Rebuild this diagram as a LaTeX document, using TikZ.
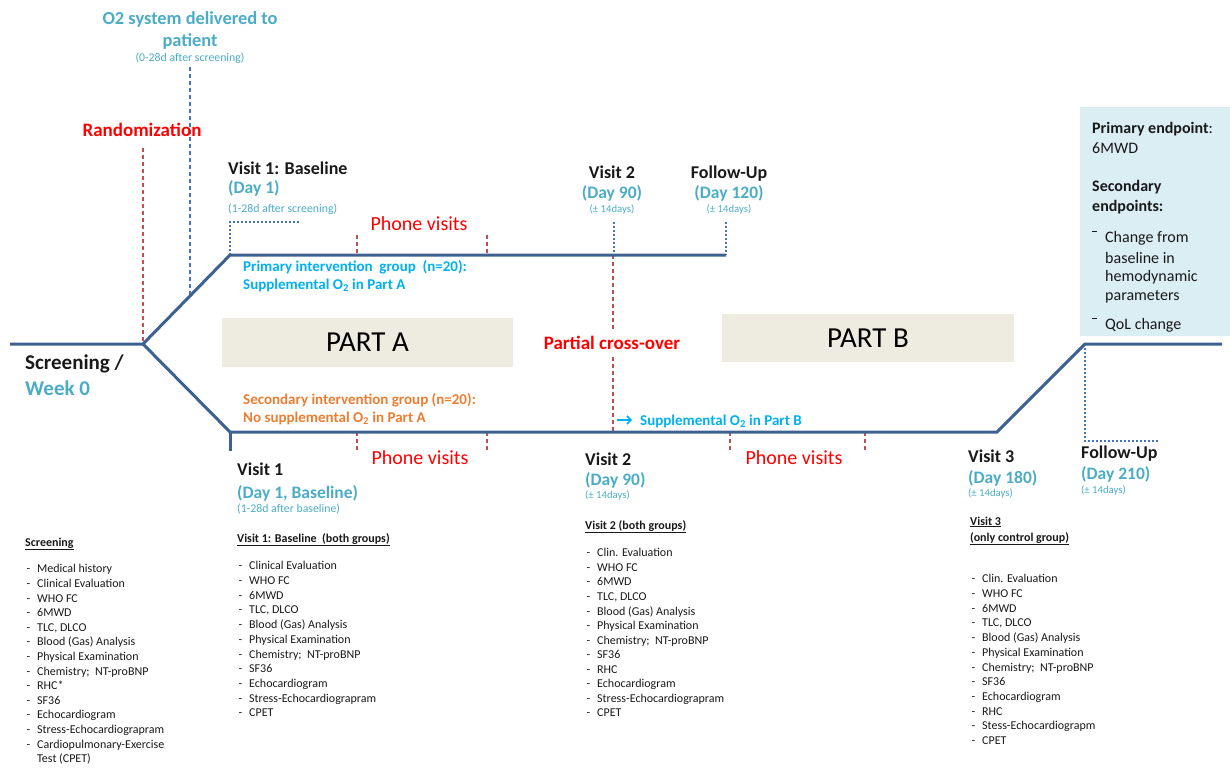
\documentclass[tikz,border=0pt]{standalone}
\usepackage{fontspec}
\setmainfont{Carlito}
\usetikzlibrary{arrows.meta}
\definecolor{tline}{RGB}{61,97,145}
\definecolor{daybl}{RGB}{75,172,198}
\definecolor{cyanbl}{RGB}{0,176,240}
\definecolor{orng}{RGB}{237,125,49}
\definecolor{dkred}{RGB}{192,80,77}
\definecolor{dotbl}{RGB}{68,114,196}
\definecolor{partfill}{RGB}{238,236,225}
\definecolor{epfill}{RGB}{219,238,244}
\definecolor{txt}{RGB}{25,25,25}
\newcommand\fsz[1]{\fontsize{#1}{#1}\selectfont}
\newcommand\dsh{\makebox[12pt][l]{\hspace{1.5pt}-}}
\newcommand\ovb{\makebox[13pt][l]{\raisebox{0.62em}{\rule{5pt}{0.8pt}}}}
\tikzset{
  every node/.style={inner sep=0pt},
  tl/.style={tline, line width=3pt},
  reddash/.style={dkred, line width=2.2pt, dash pattern=on 4pt off 3pt},
  bluedash/.style={dotbl, line width=1.6pt, dash pattern=on 4pt off 3pt},
  bluedot/.style={dotbl, line width=2pt, dash pattern=on 2pt off 2pt},
  hd/.style={font=\fsz{18}\bfseries, text=txt},
  day/.style={font=\fsz{17.5}\bfseries, text=daybl},
  sml/.style={font=\fsz{11.8}, text=daybl},
  pm/.style={font=\fsz{10.7}, text=daybl},
  redb/.style={font=\fsz{19}\bfseries, text=red},
  phone/.style={font=\fsz{20}, text=red},
  grp/.style={font=\fsz{15}\bfseries},
  partbox/.style={fill=partfill, font=\fsz{29}, text=black},
  ep/.style={font=\fsz{16}, text=txt},
  lhd/.style={font=\fsz{12}\bfseries, text=txt},
  li/.style={font=\fsz{12}, text=txt, anchor=base west},
}
\begin{document}
\begin{tikzpicture}[x=1pt,y=-1pt]
\useasboundingbox (0,0) rectangle (1230,769);
% endpoint box
\node[fill=epfill, minimum width=150pt, minimum height=229pt] (epbox) at (1155,221.5) {};
% part boxes
\node[partbox, minimum width=291pt, minimum height=49pt] (pa) at (367.5,342.5) {PART A};
\node[partbox, minimum width=292pt, minimum height=48pt] (pb) at (868,338) {PART B};
% coordinates of the timeline
\coordinate (scr) at (10,344);
\coordinate (br) at (143,344);
\coordinate (ua) at (230,255);
\coordinate (ue) at (726,255);
\coordinate (la) at (230,432);
\coordinate (lt) at (230,451);
\coordinate (le) at (997,432);
\coordinate (ra) at (1085,344);
\coordinate (re) at (1222,344);
% markers
\coordinate (rnd1) at (143,148);
\coordinate (o2a) at (190,67);
\coordinate (o2b) at (190,296);
\coordinate (v1a) at (230,222);
\coordinate (v1b) at (300,222);
\coordinate (v2a) at (614,222);
\coordinate (v2b) at (614,255);
\coordinate (fua) at (726,222);
\coordinate (fub) at (1085,441);
\coordinate (fuc) at (1158,441);
\coordinate (cx1) at (613,255);
\coordinate (cx2) at (613,331);
\coordinate (cx3) at (613,357);
\coordinate (cx4) at (613,432);
\foreach \n/\x/\ya/\yb in {p1/357/235/255, p2/487/235/255, p3/357/432/452, p4/487/432/452, p5/730/432/452, p6/865/432/452}{
  \coordinate (\n a) at (\x,\ya);
  \coordinate (\n b) at (\x,\yb);
}
\coordinate (arS) at (617,420);
\coordinate (arE) at (632,420);

% dashed / dotted markers
\draw[reddash] (rnd1) -- (br);
\draw[bluedash] (o2a) -- (o2b);
\draw[bluedot] (ua) -- (v1a) -- (v1b);
\draw[bluedot] (v2a) -- (v2b);
\draw[bluedot] (fua) -- (ue);
\draw[bluedot] (ra) -- (fub) -- (fuc);
\foreach \n in {p1,p2,p3,p4,p5,p6}{ \draw[reddash] (\n a) -- (\n b); }
\draw[reddash] (cx1) -- (cx2);
\draw[reddash] (cx3) -- (cx4);
% timeline
\draw[tl, line join=miter] (scr) -- (br) -- (ua) -- (ue);
\draw[tl, line join=miter] (br) -- (la) -- (le) -- (ra) -- (re);
\draw[tl] (la) -- (lt);
\draw[cyanbl, line width=1.6pt, -{Straight Barb[length=4pt,width=8pt]}] (arS) -- (arE);

% top texts
\node[font=\fsz{18.4}\bfseries, text=daybl, anchor=base] (o2t1) at (190,24) {O2 system delivered to};
\node[font=\fsz{18.4}\bfseries, text=daybl, anchor=base] (o2t2) at (190,46) {patient};
\node[sml, anchor=base] (o2t3) at (190,61.5) {(0-28d after screening)};
\node[redb, anchor=base] (rnd) at (142,136) {Randomization};

\node[hd, anchor=base west] (v1t) at (228,174) {Visit 1: Baseline};
\node[day, anchor=base west] (v1d) at (228,193) {(Day 1)};
\node[sml, anchor=base west] (v1s) at (228,212) {(1-28d after screening)};

\node[hd, anchor=base] (v2t) at (612,178) {Visit 2};
\node[day, anchor=base] (v2d) at (612,198) {(Day 90)};
\node[pm, anchor=base] (v2s) at (612,212.5) {(± 14days)};

\node[hd, anchor=base] (fut) at (729,178) {Follow-Up};
\node[day, anchor=base] (fud) at (729,198) {(Day 120)};
\node[pm, anchor=base] (fus) at (729,212.5) {(± 14days)};

\node[phone, anchor=base] (ph1) at (419,230.5) {Phone visits};
\node[grp, text=cyanbl, anchor=base west] (pg1) at (243,271) {Primary intervention\ \ group\ \ (n=20):};
\node[grp, text=cyanbl, anchor=base west] (pg2) at (243,289) {Supplemental\ O\textsubscript{2} in Part\ A};

\node[redb, anchor=base] (pco) at (612,349) {Partial cross-over};
\node[font=\fsz{21}\bfseries, text=txt, anchor=base west] (scrn) at (25,369) {Screening /};
\node[font=\fsz{21}\bfseries, text=daybl, anchor=base west] (wk0) at (25,395) {Week 0};

\node[grp, text=orng, anchor=base west] (sg1) at (243,404) {Secondary\ intervention\ group (n=20):};
\node[grp, text=orng, anchor=base west] (sg2) at (243,422) {No supplemental O\textsubscript{2} in Part A};
\node[grp, text=cyanbl, anchor=base west] (supb) at (640,425) {Supplemental O\textsubscript{2} in Part B};

\node[phone, anchor=base] (ph2) at (420,464.5) {Phone visits};
\node[phone, anchor=base] (ph3) at (794,464.5) {Phone visits};

\node[hd, anchor=base west] (v1lt) at (237,475) {Visit 1};
\node[day, anchor=base west] (v1ld) at (237,498) {(Day 1, Baseline)};
\node[sml, anchor=base west] (v1ls) at (237,512) {(1-28d after baseline)};

\node[hd, anchor=base west] (v2lt) at (585,465) {Visit 2};
\node[day, anchor=base west] (v2ld) at (585,485) {(Day 90)};
\node[pm, anchor=base west] (v2ls) at (585,498.5) {(± 14days)};

\node[hd, anchor=base west] (v3t) at (968,462) {Visit 3};
\node[day, anchor=base west] (v3d) at (968,483) {(Day 180)};
\node[pm, anchor=base west] (v3s) at (968,496.5) {(± 14days)};

\node[hd, anchor=base west] (fult) at (1081,458) {Follow-Up};
\node[day, anchor=base west] (fuld) at (1081,479) {(Day 210)};
\node[pm, anchor=base west] (fuls) at (1081,493.5) {(± 14days)};

% endpoints text
\node[ep, anchor=base west] (e1) at (1092,133) {\textbf{Primary\ endpoint}:};
\node[ep, anchor=base west] (e2) at (1092,153) {6MWD};
\node[ep, anchor=base west] (e3) at (1092,191) {\textbf{Secondary}};
\node[ep, anchor=base west] (e4) at (1092,211) {\textbf{endpoints:}};
\node[ep, anchor=base west] (e5) at (1092,242) {\ovb Change from};
\node[ep, anchor=base west] (e6) at (1105,263) {baseline in};
\node[ep, anchor=base west] (e7) at (1105,281) {hemodynamic};
\node[ep, anchor=base west] (e8) at (1105,300) {parameters};
\node[ep, anchor=base west] (e9) at (1092,329) {\ovb QoL change};

% lists
\node[lhd, anchor=base west] (lh1) at (25,546) {\underline{Screening}};
\foreach \t [count=\i] in {Medical history, Clinical Evaluation, WHO FC, 6MWD, {TLC, DLCO}, Blood (Gas) Analysis, Physical Examination, {Chemistry;\ \ NT-proBNP}, RHC*, SF36, Echocardiogram, Stress-Echocardiograpram, Cardiopulmonary-Exercise}{
  \node[li] (sl\i) at (25,{572.8+(\i-1)*14.6}) {\dsh\t};
}
\node[li] (sl14) at (37,{572.8+13*14.6}) {Test (CPET)};

\node[lhd, anchor=base west] (lh2) at (237,542) {\underline{Visit 1: Baseline\ \ (both groups)}};
\foreach \t [count=\i] in {Clinical Evaluation, WHO FC, 6MWD, {TLC, DLCO}, Blood (Gas) Analysis, Physical Examination, {Chemistry;\ \ NT-proBNP}, SF36, Echocardiogram, Stress-Echocardiograpram, CPET}{
  \node[li] (al\i) at (237,{569.8+(\i-1)*14.7}) {\dsh\t};
}

\node[lhd, anchor=base west] (lh3) at (585,529) {\underline{Visit 2 (both groups)}};
\foreach \t [count=\i] in {Clin. Evaluation, WHO FC, 6MWD, {TLC, DLCO}, Blood (Gas) Analysis, Physical Examination, {Chemistry;\ \ NT-proBNP}, SF36, RHC, Echocardiogram, Stress-Echocardiograpram, CPET}{
  \node[li] (bl\i) at (585,{556.8+(\i-1)*14.55}) {\dsh\t};
}

\node[lhd, anchor=base west] (lh4) at (970,525) {\underline{Visit 3}};
\node[lhd, anchor=base west] (lh5) at (970,541) {\underline{(only control group)}};
\foreach \t [count=\i] in {Clin. Evaluation, WHO FC, 6MWD, {TLC, DLCO}, Blood (Gas) Analysis, Physical Examination, {Chemistry;\ \ NT-proBNP}, SF36, Echocardiogram, RHC, Stess-Echocardiograpm, CPET}{
  \node[li] (cl\i) at (970,{582.8+(\i-1)*14.7}) {\dsh\t};
}
\end{tikzpicture}
\end{document}
